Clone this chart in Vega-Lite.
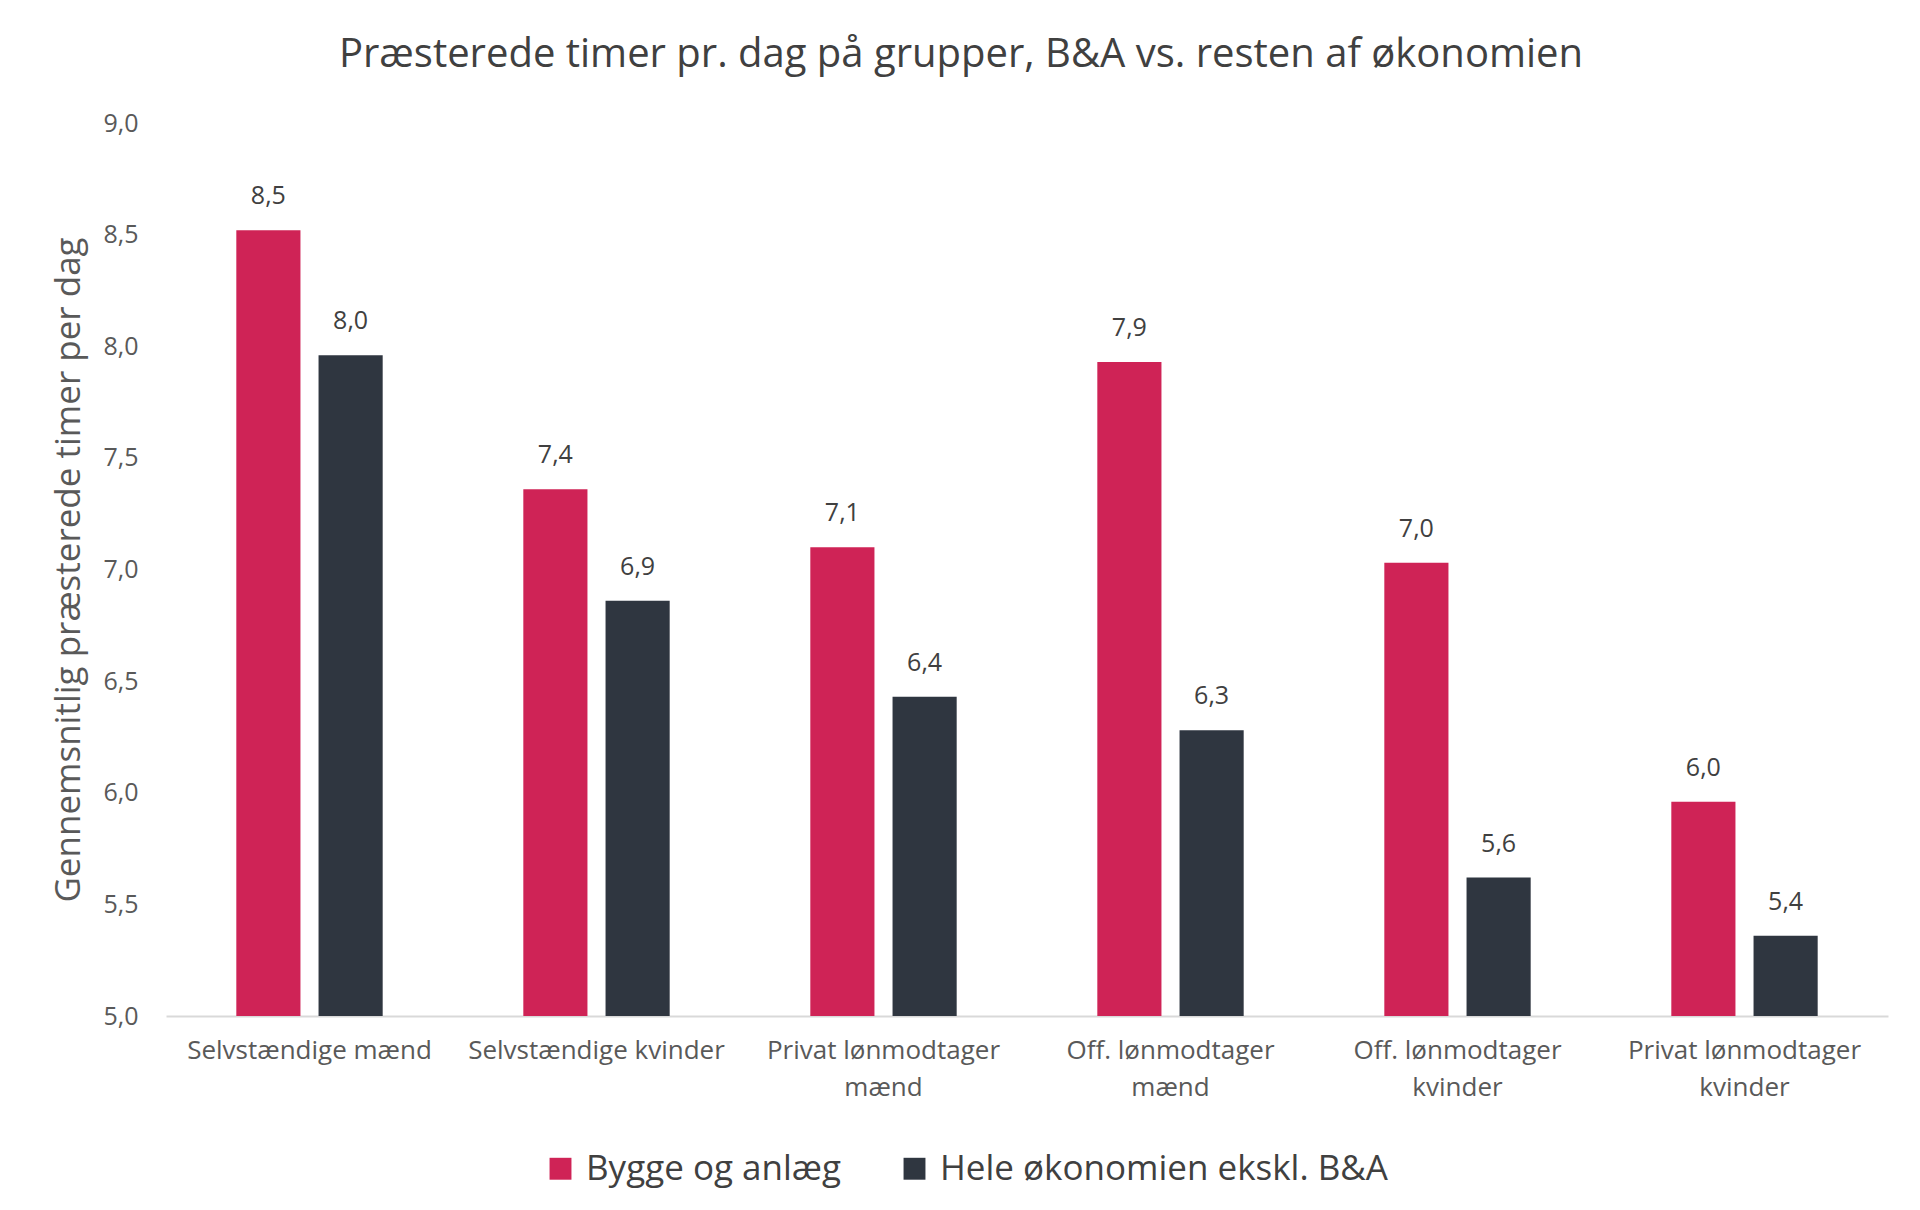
{
  "$schema": "https://vega.github.io/schema/vega-lite/v6.json",
  "autosize": {"type": "none"},
  "width": 1722,
  "height": 893,
  "padding": {"left": 166, "top": 123, "right": 32, "bottom": 194},
  "background": "white",
  "config": {
    "font": "Open Sans",
    "view": {"stroke": null},
    "locale": {"number": {"decimal": ",", "thousands": ".", "grouping": [3], "currency": ["", " kr."]}}
  },
  "title": {
    "text": "Præsterede timer pr. dag på grupper, B&A vs. resten af økonomien",
    "fontSize": 40,
    "fontWeight": "normal",
    "color": "#404040",
    "anchor": "middle",
    "dx": -66,
    "offset": 36
  },
  "data": {
    "values": [
      {"gruppe": "Selvstændige mænd", "serie": "Bygge og anlæg", "timer": 8.52},
      {"gruppe": "Selvstændige mænd", "serie": "Hele økonomien ekskl. B&A", "timer": 7.96},
      {"gruppe": "Selvstændige kvinder", "serie": "Bygge og anlæg", "timer": 7.36},
      {"gruppe": "Selvstændige kvinder", "serie": "Hele økonomien ekskl. B&A", "timer": 6.86},
      {"gruppe": "Privat lønmodtager mænd", "serie": "Bygge og anlæg", "timer": 7.1},
      {"gruppe": "Privat lønmodtager mænd", "serie": "Hele økonomien ekskl. B&A", "timer": 6.43},
      {"gruppe": "Off. lønmodtager mænd", "serie": "Bygge og anlæg", "timer": 7.93},
      {"gruppe": "Off. lønmodtager mænd", "serie": "Hele økonomien ekskl. B&A", "timer": 6.28},
      {"gruppe": "Off. lønmodtager kvinder", "serie": "Bygge og anlæg", "timer": 7.03},
      {"gruppe": "Off. lønmodtager kvinder", "serie": "Hele økonomien ekskl. B&A", "timer": 5.62},
      {"gruppe": "Privat lønmodtager kvinder", "serie": "Bygge og anlæg", "timer": 5.96},
      {"gruppe": "Privat lønmodtager kvinder", "serie": "Hele økonomien ekskl. B&A", "timer": 5.36}
    ]
  },
  "encoding": {
    "x": {
      "field": "gruppe",
      "type": "nominal",
      "sort": null,
      "scale": {"paddingInner": 0.49, "paddingOuter": 0.245},
      "axis": {
        "title": null,
        "labelAngle": 0,
        "labelFontSize": 26,
        "labelColor": "#595959",
        "labelPadding": 34,
        "labelLineHeight": 37,
        "labelBaseline": "middle",
        "labelLimit": 400,
        "ticks": false,
        "domainColor": "#D9D9D9",
        "domainWidth": 2,
        "labelExpr": "indexof(datum.label, 'lønmodtager') >= 0 ? split(replace(datum.label, 'lønmodtager ', 'lønmodtager|'), '|') : datum.label"
      }
    },
    "xOffset": {
      "field": "serie",
      "type": "nominal",
      "scale": {"paddingInner": 0.22, "paddingOuter": 0}
    },
    "y": {
      "field": "timer",
      "type": "quantitative",
      "scale": {"domain": [5, 9], "zero": false, "nice": false},
      "axis": {
        "title": "Gennemsnitlig præsterede timer per dag",
        "titleFontSize": 35,
        "titleFontWeight": "normal",
        "titleColor": "#595959",
        "titlePadding": 16,
        "values": [5, 5.5, 6, 6.5, 7, 7.5, 8, 8.5, 9],
        "format": ".1f",
        "labelFontSize": 25,
        "labelColor": "#595959",
        "labelPadding": 28,
        "ticks": false,
        "domain": false,
        "grid": false
      }
    }
  },
  "layer": [
    {
      "mark": {"type": "bar", "clip": true},
      "encoding": {
        "color": {
          "field": "serie",
          "type": "nominal",
          "scale": {"domain": ["Bygge og anlæg", "Hele økonomien ekskl. B&A"], "range": ["#CF2356", "#2F3640"]},
          "legend": {
            "title": null,
            "orient": "none",
            "direction": "horizontal",
            "legendX": 377,
            "legendY": 1028,
            "symbolType": "square",
            "symbolSize": 480,
            "symbolStrokeWidth": 0,
            "symbolOpacity": 1,
            "labelFontSize": 35,
            "labelColor": "#404040",
            "labelOffset": 8,
            "columnPadding": 56,
            "labelLimit": 600
          }
        }
      }
    },
    {
      "mark": {"type": "text", "baseline": "middle", "dy": -34, "fontSize": 25, "color": "#404040"},
      "encoding": {
        "text": {"field": "timer", "type": "quantitative", "format": ".1f"}
      }
    }
  ]
}
